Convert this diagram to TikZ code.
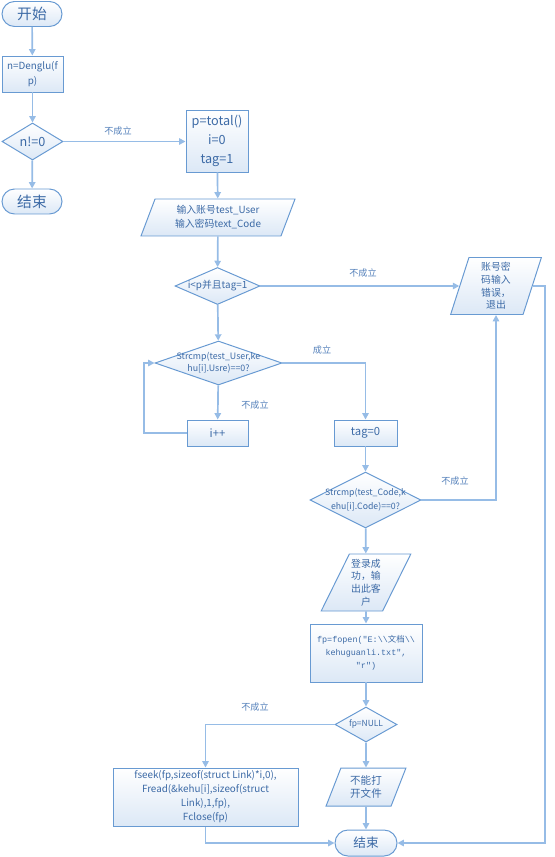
\documentclass[tikz,border=0pt]{standalone}
\usepackage{fontspec}
\setmainfont{Noto Sans CJK SC}
\newfontfamily\codefont{Liberation Mono}
\usetikzlibrary{shapes.geometric,shapes.misc,arrows.meta}
\definecolor{edgeblue}{RGB}{104,154,210}
\definecolor{lineblue}{RGB}{150,188,230}
\definecolor{textblue}{RGB}{60,106,166}
\definecolor{notecolor}{RGB}{84,128,186}
\definecolor{fillblue}{RGB}{220,232,246}
\newcommand{\fs}[2]{\fontsize{#1}{#2}\selectfont}

\begin{document}
\begin{tikzpicture}[
    box/.style={draw=edgeblue, line width=0.7pt, top color=white, bottom color=fillblue,
      text=textblue, align=center, inner sep=0pt},
    term/.style={box, rounded rectangle},
    proc/.style={box, rectangle},
    io/.style={box, trapezium, trapezium stretches=true,
      trapezium left angle=#1, trapezium right angle=180-#1},
    decide/.style={box, diamond, inner xsep=-4em, inner ysep=-2em},
    line/.style={draw=lineblue, line width=1.2pt, -{Triangle[width=4.5pt,length=4.5pt]}},
    note/.style={text=notecolor, font=\fs{6.5}{8}}
  ]
  \useasboundingbox (0,0) rectangle (13.85,-21.425);

  % left column
  \node[term, minimum width=1.5cm, minimum height=0.625cm, font=\fs{10.5}{12}] (start) at (0.8,-0.35) {开始};
  \node[proc, minimum width=1.525cm, minimum height=0.9cm, font=\fs{7}{11}] (denglu) at (0.8125,-1.85) {n=Denglu(f\\p)};
  \node[decide, minimum width=1.525cm, minimum height=0.925cm, font=\fs{9}{11}] (neq) at (0.8125,-3.5375) {n!=0};
  \node[term, minimum width=1.5cm, minimum height=0.625cm, font=\fs{10.5}{12}] (end1) at (0.8,-5.0375) {结束};

  % middle column
  \node[proc, minimum width=1.55cm, minimum height=1.55cm, font=\fs{9}{13.5}] (total) at (5.425,-3.525) {p=total()\\i=0\\tag=1};
  \node[io=68, minimum width=3.875cm, minimum height=0.925cm, font=\fs{7}{10}] (input) at (5.45,-5.4375) {输入账号test\_User\\输入密码text\_Code};
  \node[decide, minimum width=2.125cm, minimum height=0.925cm, font=\fs{7}{9}] (cond1) at (5.4375,-7.15) {i<p并且tag=1};
  \node[decide, minimum width=3.175cm, minimum height=1.1cm, font=\fs{6.3}{8.5}] (cmpuser) at (5.4625,-9.075) {Strcmp(test\_User,ke\\hu[i].Usre)==0?};
  \node[proc, minimum width=1.525cm, minimum height=0.65cm, font=\fs{8}{10}] (inc) at (5.4375,-10.825) {i++};

  % right column
  \node[io=78, minimum width=2.275cm, minimum height=1.425cm, font=\fs{7}{9}] (err) at (12.4,-7.15) {账号密\\码输入\\错误，\\退出};
  \node[proc, minimum width=1.575cm, minimum height=0.65cm, font=\fs{8}{10}] (tag0) at (9.1375,-10.825) {tag=0};
  \node[decide, minimum width=2.775cm, minimum height=1.4cm, font=\fs{6.2}{10}] (cmpcode) at (9.1375,-12.5) {Strcmp(test\_Code,k\\ehu[i].Code)==0?};
  \node[io=62, minimum width=2.25cm, minimum height=1.425cm, font=\fs{7}{9}] (login) at (9.15,-14.5625) {登录成\\功，输\\出此客\\户};
  \node[proc, minimum width=2.8cm, minimum height=1.45cm, font=\fs{6}{9.3}] (fopen) at (9.15,-16.325)
    {\codefont fp=fopen("E:\textbackslash\textbackslash{\rmfamily 文档}\textbackslash\textbackslash\\
     \codefont kehuguanli.txt",\\ \codefont "r")};
  \node[decide, minimum width=1.55cm, minimum height=0.875cm, font=\fs{6}{8}] (isnull) at (9.15,-18.1125) {fp=NULL};
  \node[io=68, minimum width=2cm, minimum height=0.95cm, font=\fs{7.5}{9.5}] (nofile) at (9.15,-19.675) {不能打\\开文件};
  \node[term, minimum width=1.55cm, minimum height=0.65cm, font=\fs{9}{11}] (end2) at (9.15,-21.075) {结束};
  \node[proc, minimum width=4.625cm, minimum height=1.45cm, font=\fs{7}{10}] (fseek) at (5.1375,-19.925)
    {fseek(fp,sizeof(struct Link)*i,0),\\Fread(\&kehu[i],sizeof(struct\\Link),1,fp),\\Fclose(fp)};

  % branch labels
  \node[note] (n1) at (2.95,-3.275) {不成立};
  \node[note] (n2) at (9.075,-6.825) {不成立};
  \node[note] (n3) at (8.05,-8.75) {成立};
  \node[note] (n4) at (6.375,-10.125) {不成立};
  \node[note] (n5) at (11.375,-12.025) {不成立};
  \node[note] (n6) at (6.375,-17.675) {不成立};

  \coordinate (loopx) at (3.6,0);
  \coordinate (rail) at (13.625,0);

  % connectors
  \draw[line] (start) -- (denglu);
  \draw[line] (denglu) -- (neq);
  \draw[line] (neq) -- (end1);
  \draw[line] (neq) -- (neq -| total.west);
  \draw[line] (total) -- (input);
  \draw[line] (input) -- (cond1);
  \draw[line] (cond1.east) -- (cond1.east -| err.west);
  \draw[line] (cond1) -- (cmpuser);
  \draw[line] (cmpuser) -- (inc);
  \draw[line] (inc.west) -- (inc.west -| loopx) |- (cmpuser.west);
  \draw[line] (cmpuser.east) -| (tag0);
  \draw[line] (tag0) -- (cmpcode);
  \draw[line] (cmpcode.east) -| (err.south);
  \draw[line] (cmpcode) -- (login);
  \draw[line] (login) -- (fopen);
  \draw[line] (fopen) -- (isnull);
  \draw[line] (isnull.west) -| (fseek);
  \draw[line] (isnull) -- (nofile);
  \draw[line] (nofile) -- (end2);
  \draw[line] (fseek.south) |- (end2.west);
  \draw[line] (err.east) -- (err.east -| rail) |- (end2.east);
\end{tikzpicture}
\end{document}
